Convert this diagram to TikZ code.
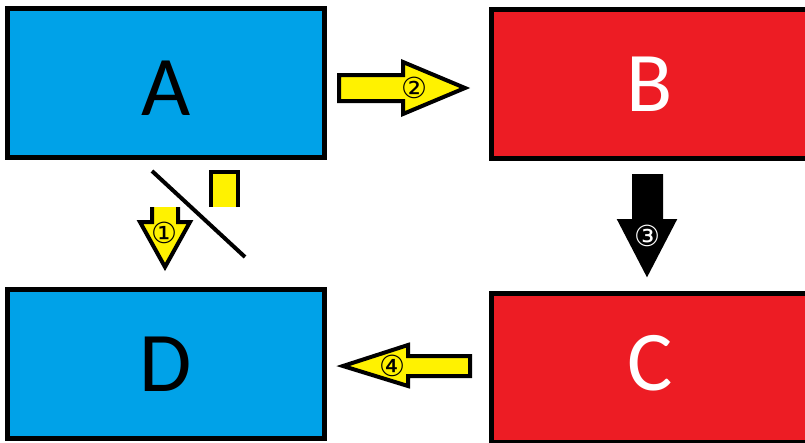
\documentclass[tikz,border=0pt]{standalone}
\usepackage{fontspec}
\setmainfont{Carlito}
\newfontfamily\circfont{DejaVu Sans}
\usepackage{xcolor}
\usepackage{tikz}
\usetikzlibrary{positioning}
\definecolor{paintblue}{HTML}{00A2E8}
\definecolor{paintred}{HTML}{ED1C24}
\definecolor{paintyellow}{HTML}{FFF200}

\tikzset{
  box/.style={draw=black, line width=5pt, minimum width=317pt, minimum height=149pt,
    inner sep=0pt, font=\fontsize{85}{85}\selectfont},
  bluebox/.style={box, fill=paintblue, text=black},
  redbox/.style={box, fill=paintred, text=white},
  blockarrow/.style={draw=black, line width=4pt, miter limit=20},
  numlabel/.style={inner sep=0pt, font=\circfont\fontsize{29}{29}\selectfont}
}

\begin{document}
\begin{tikzpicture}[x=1pt, y=-1pt]
  \useasboundingbox (0,0) rectangle (805,442);

  % Boxes
  \node[bluebox, text height=64pt, text depth=0pt] (A) at (166,83) {A};
  \node[redbox] (B) at (650,84) {B};
  \node[redbox, text height=44pt, text depth=0pt] (C) at (650,368) {C};
  \node[bluebox] (D) at (166,364) {D};

  % Arrow 1 (crossed out)
  \filldraw[blockarrow, fill=paintyellow] (152,207) -- (152,222) -- (140,222) -- (165,267)
    -- (190,222) -- (178,222) -- (178,207);
  \filldraw[blockarrow, fill=paintyellow] (211,207) -- (211,172) -- (238,172) -- (238,207);
  \node[numlabel] (n1) at (164,233) {①};
  \draw[line width=4pt] (152,171) -- (245,257);

  % Arrow 2
  \filldraw[blockarrow, fill=paintyellow] (339,75) -- (403,75) -- (403,62) -- (465,88)
    -- (403,114) -- (403,101) -- (339,101) -- cycle;
  \node[numlabel] (n2) at (414,88) {②};

  % Arrow 3
  \filldraw[blockarrow, fill=black] (634,176) -- (661,176) -- (661,221) -- (674,221)
    -- (647,273) -- (620,221) -- (634,221) -- cycle;
  \node[numlabel, text=white] (n3) at (647,236) {③};

  % Arrow 4
  \filldraw[blockarrow, fill=paintyellow] (470,356) -- (408,356) -- (408,345) -- (343,366)
    -- (408,386) -- (408,376) -- (470,376) -- cycle;
  \node[numlabel] (n4) at (392,366) {④};
\end{tikzpicture}
\end{document}
